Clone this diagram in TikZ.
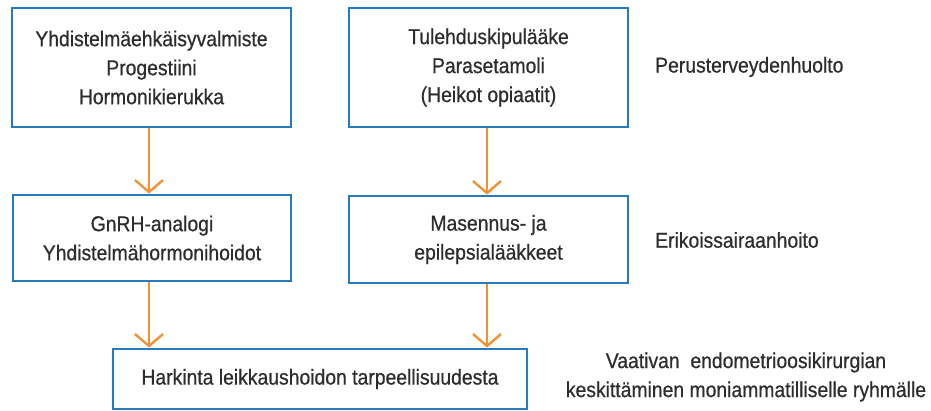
\documentclass[tikz,border=0pt]{standalone}
\usepackage{fontspec}
\setmainfont[FakeStretch=0.9,FakeBold=0.6]{Liberation Sans}
\usetikzlibrary{arrows.meta}
\definecolor{boxblue}{RGB}{40,122,190}
\definecolor{arroworange}{RGB}{242,146,52}
\definecolor{txt}{RGB}{45,45,45}
\tikzset{
  treatbox/.style={draw=boxblue, line width=2.8pt, fill=white, align=center,
    text=txt, font=\fontsize{21.5pt}{29pt}\selectfont, inner sep=0pt},
  flowarrow/.style={draw=arroworange, line width=2.4pt,
    -{Straight Barb[length=12pt,width=28pt]}},
  sidelabel/.style={text=txt, font=\fontsize{21.5pt}{29pt}\selectfont, align=center, inner sep=0pt}
}
\begin{document}
\begin{tikzpicture}[x=1pt,y=-1pt]
\useasboundingbox (0,0) rectangle (931,410);
\node[treatbox, minimum width=279pt, minimum height=119pt] (b1) at (151.5,67.5)
  {Yhdistelmäehkäisyvalmiste\\Progestiini\\Hormonikierukka};
\node[treatbox, minimum width=279pt, minimum height=119pt] (b2) at (488.5,67.5)
  {Tulehduskipulääke\\Parasetamoli\\(Heikot opiaatit)};
\node[treatbox, minimum width=278pt, minimum height=86pt] (b3) at (152,238)
  {GnRH-analogi\\Yhdistelmähormonihoidot};
\node[treatbox, minimum width=279pt, minimum height=87pt] (b4) at (488.5,239.5)
  {Masennus- ja\\epilepsialääkkeet};
\node[treatbox, minimum width=414pt, minimum height=60pt] (b5) at (320,379)
  {Harkinta leikkaushoidon tarpeellisuudesta};
\node[sidelabel, anchor=west] (l1) at (655,67) {Perusterveydenhuolto};
\node[sidelabel, anchor=west] (l2) at (655,240) {Erikoissairaanhoito};
\node[sidelabel] (l3) at (746,377) {Vaativan\ \ endometrioosikirurgian\\keskittäminen moniammatilliselle ryhmälle};
\draw[flowarrow] (b1.south -| 149,0) -- (b3.north -| 149,0);
\draw[flowarrow] (b2.south -| 487,0) -- (b4.north -| 487,0);
\draw[flowarrow] (b3.south -| 149,0) -- (b5.north -| 149,0);
\draw[flowarrow] (b4.south -| 487,0) -- (b5.north -| 487,0);
\end{tikzpicture}
\end{document}
